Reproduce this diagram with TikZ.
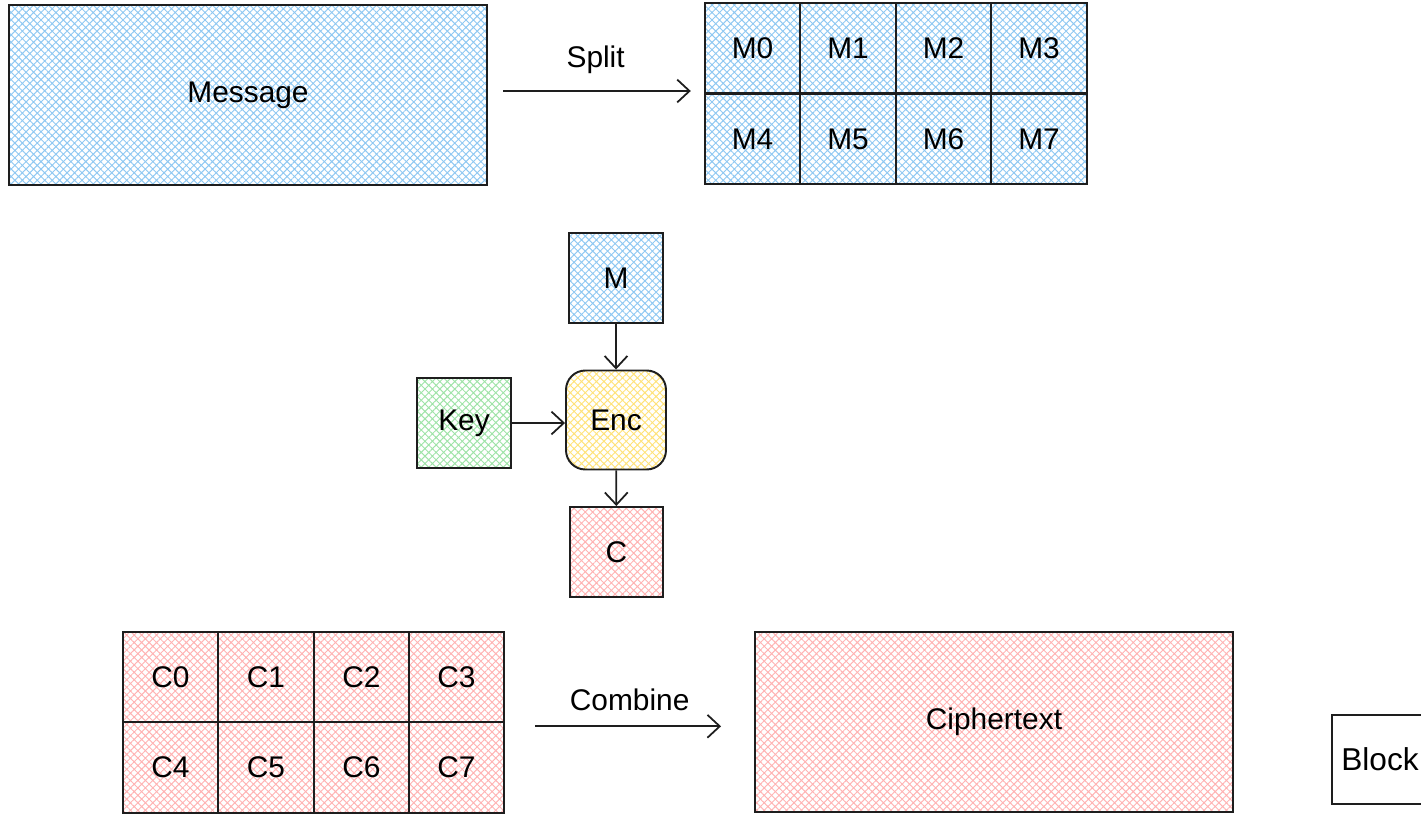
\documentclass[tikz,border=0pt]{standalone}
\usepackage{fontspec}
\setmainfont{Liberation Sans}
\usetikzlibrary{calc,positioning,arrows.meta,patterns.meta}
\definecolor{hblue}{HTML}{8FC8F2}
\definecolor{hgreen}{HTML}{9FE3A8}
\definecolor{hyellow}{HTML}{FFE27A}
\definecolor{hred}{HTML}{FFB3B3}
\definecolor{ink}{HTML}{1E1E1E}

\begin{document}
\begin{tikzpicture}[blk/.style={draw=ink,line width=1.1pt,minimum width=1.91cm,minimum height=1.81cm,inner sep=0pt,font=\fontsize{17}{20}\selectfont},
                    big/.style={blk,minimum width=9.56cm,minimum height=3.6cm},
                    hatch/.style={pattern={Hatch[angle=45,distance=3pt,line width=0.55pt]},pattern color=#1},
                    lnk/.style={->,draw=ink,line width=1pt},
                    lbl/.style={font=\fontsize{17}{20}\selectfont,inner sep=0pt},
                    >={Straight Barb[length=7pt,width=13pt,line width=1pt]}]
                                \clip (0,0) rectangle (28.42,-16.28);

                                % message and its blocks
                                \node[big,hatch=hblue] (msg) at (4.96,-1.9) {Message};
                                \node[blk,hatch=hblue] (m0) at (15.05,-0.96) {M0};
                                \node[blk,hatch=hblue] (m1) at (16.96,-0.96) {M1};
                                \node[blk,hatch=hblue] (m2) at (18.87,-0.96) {M2};
                                \node[blk,hatch=hblue] (m3) at (20.78,-0.96) {M3};
                                \node[blk,hatch=hblue] (m4) at (15.05,-2.78) {M4};
                                \node[blk,hatch=hblue] (m5) at (16.96,-2.78) {M5};
                                \node[blk,hatch=hblue] (m6) at (18.87,-2.78) {M6};
                                \node[blk,hatch=hblue] (m7) at (20.78,-2.78) {M7};
                                \draw[lnk,shorten <=0.32cm,shorten >=0.26cm] ([yshift=0.08cm]msg.east) -- ([yshift=0.08cm]msg.east -| m4.west)
                                    node[lbl,midway,above=0.32cm] (split) {Split};

                                % one block through the cipher
                                \node[blk,hatch=hblue,minimum width=1.88cm,minimum height=1.8cm] (m) at (12.32,-5.56) {M};
                                \node[blk,hatch=hyellow,minimum width=2cm,minimum height=1.98cm,rounded corners=11pt] (enc) at (12.32,-8.4) {Enc};
                                \node[blk,hatch=hgreen,minimum width=1.88cm,minimum height=1.8cm] (key) at (9.28,-8.46) {Key};
                                \node[blk,hatch=hred,minimum width=1.86cm,minimum height=1.8cm] (c) at (12.33,-11.04) {C};
                                \draw[lnk] (m) -- (enc);
                                \draw[lnk] (key) -- (key -| enc.west);
                                \draw[lnk] (enc) -- (c);

                                % ciphertext blocks
                                \node[blk,hatch=hred] (c0) at (3.41,-13.54) {C0};
                                \node[blk,hatch=hred] (c1) at (5.32,-13.54) {C1};
                                \node[blk,hatch=hred] (c2) at (7.23,-13.54) {C2};
                                \node[blk,hatch=hred] (c3) at (9.13,-13.54) {C3};
                                \node[blk,hatch=hred] (c4) at (3.41,-15.35) {C4};
                                \node[blk,hatch=hred] (c5) at (5.32,-15.35) {C5};
                                \node[blk,hatch=hred] (c6) at (7.23,-15.35) {C6};
                                \node[blk,hatch=hred] (c7) at (9.13,-15.35) {C7};
                                \node[big,hatch=hred] (ctx) at (19.88,-14.44) {Ciphertext};
                                \draw[lnk,shorten <=0.6cm,shorten >=0.66cm] ([yshift=-0.1cm]c7.north east) -- ([yshift=-0.1cm]c7.north east -| ctx.west)
                                    node[lbl,midway,above=0.3cm] (comb) {Combine};

                                % legend
                                \node[blk,minimum width=1.92cm,minimum height=1.78cm,font=\fontsize{18}{21}\selectfont] (leg) at (27.6,-15.19) {Block};
                            \end{tikzpicture}
\end{document}
